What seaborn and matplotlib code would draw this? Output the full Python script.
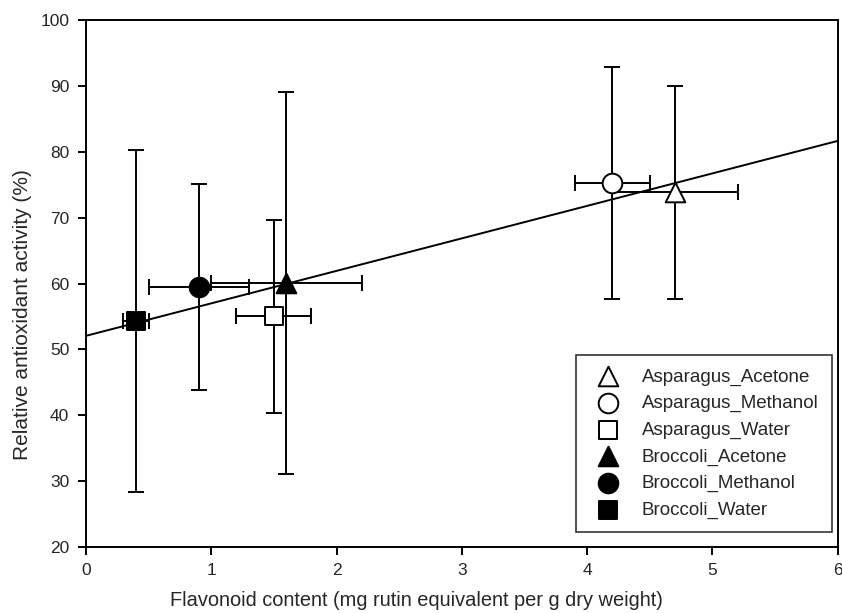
import matplotlib
matplotlib.use('Agg')
import matplotlib.pyplot as plt
import seaborn as sns
import numpy as np
import pandas as pd

# ── Data ──────────────────────────────────────────────────────
labels  = ['Asparagus_Acetone', 'Asparagus_Methanol', 'Asparagus_Water',
           'Broccoli_Acetone', 'Broccoli_Methanol', 'Broccoli_Water']
flavonoid = [4.7, 4.2, 1.5, 1.6, 0.9, 0.4]
flav_err  = [0.5, 0.3, 0.3, 0.6, 0.4, 0.1]
activity  = [73.8, 75.2, 55.0, 60.1, 59.5, 54.3]
act_err   = [16.2, 17.6, 14.6, 29.0, 15.6, 25.9]

markers = ['^', 'o', 's', '^', 'o', 's']
faces   = ['white', 'white', 'white', 'black', 'black', 'black']
sizes   = [200, 200, 160, 200, 200, 160]

df = pd.DataFrame({'x': flavonoid, 'y': activity})

sns.set_style('ticks')
plt.rcParams['font.family'] = ['Liberation Sans', 'DejaVu Sans']

fig = plt.figure(figsize=(8.42, 6.13), dpi=100)
ax = fig.add_axes([0.102, 0.107, 0.893, 0.861])
ax.set_xlim(0, 6)
ax.set_ylim(20, 100)

# regression line over full axis range
sns.regplot(data=df, x='x', y='y', scatter=False, ci=None, truncate=False,
            ax=ax, line_kws={'color': 'black', 'lw': 1.4, 'zorder': 2})

for i in range(len(labels)):
    ax.errorbar(flavonoid[i], activity[i], xerr=flav_err[i], yerr=act_err[i],
                fmt='none', ecolor='black', elinewidth=1.4, capsize=6,
                capthick=1.4, zorder=3)
    sns.scatterplot(x=[flavonoid[i]], y=[activity[i]], marker=markers[i],
                    s=sizes[i], color=faces[i], edgecolor='black',
                    linewidth=1.4, label=labels[i], ax=ax, zorder=4)

ax.set_xlim(0, 6)
ax.set_ylim(20, 100)
ax.set_xticks(range(0, 7))
ax.set_yticks(range(20, 101, 10))
ax.tick_params(labelsize=12.5, length=6, width=1.4, color='black', pad=5)
ax.tick_params(axis='y', pad=6)
for sp in ax.spines.values():
    sp.set_linewidth(1.4)
    sp.set_color('black')

ax.set_xlabel('Flavonoid content (mg rutin equivalent per g dry weight)', fontsize=14.4)
ax.set_ylabel('Relative antioxidant activity (%)', fontsize=15)
ax.xaxis.set_label_coords(0.439, -0.083)
ax.yaxis.set_label_coords(-0.071, 0.441)

leg = ax.legend(loc='lower right', bbox_to_anchor=(0.992, 0.029), borderaxespad=0,
                fontsize=13.5, frameon=True, fancybox=False, edgecolor='black',
                labelspacing=0.5, handletextpad=0.8, borderpad=0.7)
leg.get_frame().set_linewidth(1.2)

fig.savefig('out.png', dpi=100)
